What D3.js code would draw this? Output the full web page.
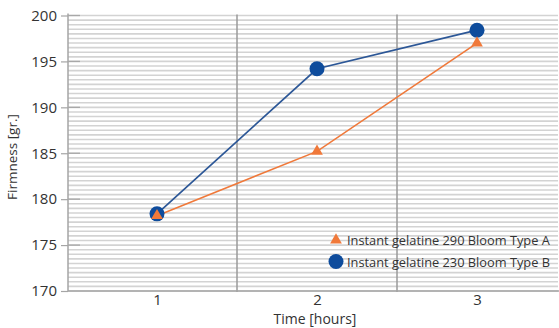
<!DOCTYPE html>
<html>
<head>
<meta charset="utf-8">
<script src="https://cdn.jsdelivr.net/npm/d3@7"></script>
<style>
  html, body { margin: 0; padding: 0; background: #fff; }
  svg { display: block; font-family: "Open Sans", "Noto Sans", sans-serif; }
</style>
</head>
<body>
<svg id="chart" width="559" height="328"></svg>
<script>
// Firmness of two instant gelatines over time
const hours = [1, 2, 3];
const typeA = [178.2, 185.2, 197.0];   // Instant gelatine 290 Bloom Type A
const typeB = [178.4, 194.2, 198.4];   // Instant gelatine 230 Bloom Type B
const yTicks = [170, 175, 180, 185, 190, 195, 200];
const seriesNames = ["Instant gelatine 290 Bloom Type A", "Instant gelatine 230 Bloom Type B"];

const svg = d3.select("#chart");
const plotLeft = 68, plotRight = 558, plotTop = 15.5, plotBottom = 291;

const x = d3.scaleLinear().domain([0.5, 3.5]).range([77, 557]);
const y = d3.scaleLinear().domain([170, 200]).range([plotBottom, plotTop]);

const orange = "#f0793a", blue = "#0e4c9c", blueLine = "#2c5797";

// fine horizontal rules every half unit
const minor = d3.range(170, 200.01, 0.5);
svg.append("g").selectAll("line").data(minor).join("line")
  .attr("x1", plotLeft).attr("x2", plotRight)
  .attr("y1", d => y(d)).attr("y2", d => y(d))
  .attr("stroke", "#d3d3d3").attr("stroke-width", 1.6);

// separators between the time categories
svg.append("g").selectAll("line").data([1.5, 2.5]).join("line")
  .attr("x1", d => x(d)).attr("x2", d => x(d))
  .attr("y1", plotTop - 1).attr("y2", plotBottom + 1)
  .attr("stroke", "#9a9a9a").attr("stroke-width", 1.5);

// y axis
const yAxis = d3.axisLeft(y).tickValues(yTicks).tickSize(7).tickPadding(4);
const gy = svg.append("g").attr("transform", `translate(${plotLeft},0)`).call(yAxis);
gy.select(".domain").attr("stroke", "#a5a5a5").attr("stroke-width", 1.5)
  .attr("d", `M0,${plotTop - 2}V${plotBottom}`);
gy.selectAll(".tick line").attr("stroke", "#a5a5a5").attr("stroke-width", 1.2);
gy.selectAll(".tick text").attr("font-size", 15).attr("fill", "#333")
  .attr("font-family", "'Open Sans', sans-serif");
// short inner marks at each labelled value
svg.append("g").selectAll("line").data(yTicks.slice(1)).join("line")
  .attr("x1", plotLeft).attr("x2", plotLeft + 12)
  .attr("y1", d => y(d)).attr("y2", d => y(d))
  .attr("stroke", "#a8a8a8").attr("stroke-width", 1.3);

// x axis
const xAxis = d3.axisBottom(x).tickValues(hours).tickSize(0).tickPadding(3).tickFormat(d3.format("d"));
const gx = svg.append("g").attr("transform", `translate(0,${plotBottom})`).call(xAxis);
gx.select(".domain").attr("stroke", "#a5a5a5").attr("stroke-width", 1.5)
  .attr("d", `M${plotLeft},0H${plotRight + 1}`);
gx.selectAll(".tick text").attr("font-size", 15).attr("fill", "#333")
  .attr("font-family", "'Open Sans', sans-serif");

// axis titles
svg.append("text").attr("x", 315).attr("y", 324).attr("text-anchor", "middle")
  .attr("font-size", 14).attr("fill", "#333").text("Time [hours]");
svg.append("text").attr("transform", "translate(17,157) rotate(-90)")
  .attr("text-anchor", "middle").attr("font-size", 13.5).attr("fill", "#333")
  .text("Firmness [gr.]");

const line = d3.line().x((d, i) => x(hours[i])).y(d => y(d));
const tri = d3.symbol().type(d3.symbolTriangle).size(60);

// Type A: orange line with triangles
svg.append("path").datum(typeA).attr("d", line)
  .attr("fill", "none").attr("stroke", orange).attr("stroke-width", 1.6);

// Type B: blue line with circles
svg.append("path").datum(typeB).attr("d", line)
  .attr("fill", "none").attr("stroke", blueLine).attr("stroke-width", 1.7);
svg.append("g").selectAll("circle").data(typeB).join("circle")
  .attr("cx", (d, i) => x(hours[i])).attr("cy", d => y(d)).attr("r", 7.5)
  .attr("fill", blue);

svg.append("g").selectAll("path").data(typeA).join("path")
  .attr("d", tri)
  .attr("transform", (d, i) => `translate(${x(hours[i])},${y(d)})`)
  .attr("fill", orange);

// legend
const lg = svg.append("g");
lg.append("path").attr("d", tri).attr("transform", "translate(336,240)").attr("fill", orange);
lg.append("circle").attr("cx", 336).attr("cy", 261.5).attr("r", 7.5).attr("fill", blue);
lg.selectAll("text").data(seriesNames).join("text")
  .attr("x", 347).attr("y", (d, i) => 245 + i * 21.5)
  .attr("font-size", 12.8).attr("fill", "#333").text(d => d);
</script>
</body>
</html>
